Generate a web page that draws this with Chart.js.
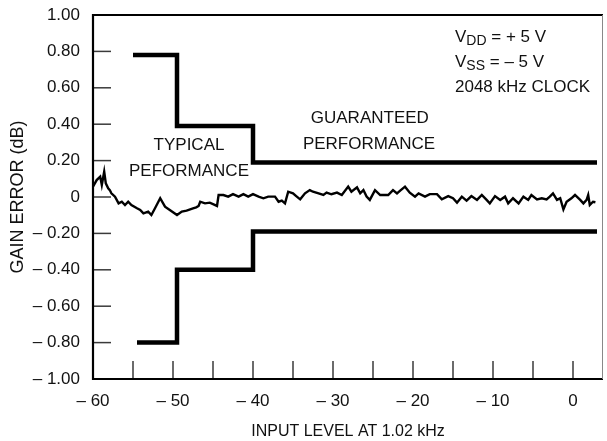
<!DOCTYPE html>
<html><head><meta charset="utf-8">
<script src="https://cdn.jsdelivr.net/npm/chart.js@4/dist/chart.umd.min.js"></script>
<style>html,body{margin:0;padding:0;background:#fff;}#wrap{width:607px;height:441px;position:relative;}</style>
</head><body><div id="wrap"><canvas id="c" width="607" height="441"></canvas></div>
<script>
// measured gain error trace (x: input level dB, y: gain error dB)
const errX = [-60,-59.54,-59.1,-58.9,-58.6,-58.4,-58.1,-57.9,-57.7,-57.25,-56.8,-56.4,-56.0,-55.6,-55.2,-54.5,-54.1,-53.7,-53.1,-52.7,-52.25,-51.6,-51.0,-50.4,-49.5,-48.9,-48.3,-47.5,-47.1,-46.8,-46.6,-46.0,-45.4,-44.5,-44.3,-43.7,-43.1,-42.5,-41.8,-41.2,-40.6,-40.0,-39.3,-38.7,-38.1,-37.25,-36.8,-36.4,-36.0,-35.6,-35.0,-34.6,-34.1,-33.5,-32.9,-32.5,-31.8,-31.2,-30.8,-30.2,-29.5,-28.9,-28.1,-27.7,-27.0,-26.6,-26.2,-25.8,-25.4,-24.75,-24.1,-23.1,-22.5,-22.0,-21.6,-21.0,-20.4,-19.75,-19.3,-18.5,-17.9,-17.0,-16.4,-15.6,-15.0,-14.5,-13.9,-13.3,-12.7,-12.0,-11.4,-10.8,-10.4,-9.75,-9.1,-8.5,-8.1,-7.5,-6.8,-6.2,-5.6,-5.2,-4.5,-3.9,-3.3,-2.9,-2.5,-2.0,-1.6,-1.2,-0.8,-0.2,0.25,0.9,1.3,1.7,1.9,2.1,2.5,2.8];
const errY = [0.057,0.093,0.112,0.066,0.139,0.075,0.048,0.038,0.020,0.002,-0.035,-0.026,-0.044,-0.026,-0.044,-0.062,-0.071,-0.090,-0.080,-0.099,-0.062,-0.007,-0.053,-0.071,-0.099,-0.080,-0.075,-0.062,-0.057,-0.049,-0.026,-0.035,-0.031,-0.049,0.011,0.011,0.002,0.016,0.002,0.016,0.002,0.016,0.002,-0.007,0.002,0.002,-0.026,-0.020,-0.035,0.029,0.020,0.005,-0.013,0.020,0.038,0.029,0.020,0.011,0.024,0.015,0.024,0.011,0.057,0.029,0.053,0.020,0.038,0.002,-0.016,0.038,0.011,0.011,0.038,0.020,0.035,0.057,0.024,0.002,0.020,0.002,0.016,0.016,-0.013,0.005,-0.007,-0.031,0.002,-0.020,0.005,-0.016,0.011,-0.016,-0.035,0.005,-0.016,0.002,-0.035,-0.007,-0.035,0.002,-0.016,0.011,-0.013,-0.007,-0.013,0.002,0.020,-0.016,-0.007,-0.068,-0.026,-0.007,0.011,-0.016,-0.035,-0.016,0.011,-0.044,-0.026,-0.029];
// guaranteed performance limits (stepped)
const upperX = [-55, -49.5, -40, 3];
const upperY = [0.78, 0.39, 0.19, 0.19];
const lowerX = [-54.5, -49.5, -40, 3];
const lowerY = [-0.80, -0.40, -0.19, -0.19];
// axes
const xTicks = [-60,-55,-50,-45,-40,-35,-30,-25,-20,-15,-10,-5,0];
const xLabelValues = [-60,-50,-40,-30,-20,-10,0];
const xLabelTexts = ['\u2013 60','\u2013 50','\u2013 40','\u2013 30','\u2013 20','\u2013 10','0'];
const yTicks = [-1,-0.8,-0.6,-0.4,-0.2,0,0.2,0.4,0.6,0.8,1];
const yTickLabels = ['\u2013 1.00','\u2013 0.80','\u2013 0.60','\u2013 0.40','\u2013 0.20','0','0.20','0.40','0.60','0.80','1.00'];

const FONT = "'Liberation Sans', Arial, Helvetica, sans-serif";
const pts = (xs, ys) => xs.map((x, i) => ({x, y: ys[i]}));

const framePlugin = {
  id: 'frame',
  afterDatasetsDraw(chart) {
    const {ctx, chartArea: a, scales: {x, y}} = chart;
    ctx.save();
    // inward ticks
    ctx.strokeStyle = '#3a3a3a'; ctx.lineWidth = 1.5;
    xTicks.forEach(v => {
      const px = x.getPixelForValue(v);
      if (Math.abs(px - a.left) < 2) return;
      ctx.beginPath(); ctx.moveTo(px, a.bottom); ctx.lineTo(px, a.bottom - 18); ctx.stroke();
    });
    yTicks.forEach(v => {
      const py = y.getPixelForValue(v);
      if (Math.abs(py - a.top) < 2 || Math.abs(py - a.bottom) < 2) return;
      ctx.beginPath(); ctx.moveTo(a.left, py); ctx.lineTo(a.left + 18, py); ctx.stroke();
    });
    // frame
    ctx.strokeStyle = '#000'; ctx.lineWidth = 2.2;
    ctx.beginPath();
    ctx.moveTo(a.right, a.top); ctx.lineTo(a.left, a.top); ctx.lineTo(a.left, a.bottom); ctx.lineTo(a.right, a.bottom);
    ctx.stroke();
    ctx.strokeStyle = '#888'; ctx.lineWidth = 1;
    ctx.beginPath(); ctx.moveTo(a.right - 0.5, a.top); ctx.lineTo(a.right - 0.5, a.bottom); ctx.stroke();

    // annotations
    ctx.fillStyle = '#111';
    ctx.font = '17px ' + FONT;
    ctx.textAlign = 'center'; ctx.textBaseline = 'middle';
    const put = (t, dx, dy) => ctx.fillText(t, x.getPixelForValue(dx), y.getPixelForValue(dy));
    put('TYPICAL', -48, 0.285);
    put('PEFORMANCE', -48, 0.143);
    put('GUARANTEED', -25.4, 0.434);
    put('PERFORMANCE', -25.5, 0.29);
    // supply notes with subscripts
    ctx.textAlign = 'left';
    const sub = (main, s, rest, dx, dy) => {
      let px = x.getPixelForValue(dx); const py = y.getPixelForValue(dy);
      ctx.font = '17px ' + FONT; ctx.fillText(main, px, py); px += ctx.measureText(main).width;
      ctx.font = '14px ' + FONT; ctx.fillText(s, px, py + 4); px += ctx.measureText(s).width;
      ctx.font = '17px ' + FONT; ctx.fillText(rest, px, py);
    };
    sub('V', 'DD', ' = + 5 V', -14.75, 0.88);
    sub('V', 'SS', ' = \u2013 5 V', -14.75, 0.74);
    ctx.font = '17px ' + FONT;
    ctx.fillText('2048 kHz CLOCK', x.getPixelForValue(-14.75), y.getPixelForValue(0.604));
    ctx.restore();
  }
};

new Chart(document.getElementById('c'), {
  type: 'line',
  data: {
    datasets: [
      {data: pts(errX, errY), borderColor: '#000', borderWidth: 2.4, pointRadius: 0, tension: 0, fill: false},
      {data: pts(upperX, upperY), borderColor: '#000', borderWidth: 4.5, pointRadius: 0, stepped: true, fill: false, borderCapStyle: 'butt'},
      {data: pts(lowerX, lowerY), borderColor: '#000', borderWidth: 4.5, pointRadius: 0, stepped: true, fill: false, borderCapStyle: 'butt'}
    ]
  },
  options: {
    responsive: false, animation: false, devicePixelRatio: 1,
    layout: {padding: {top: 15, right: 4, left: 0, bottom: 0}},
    plugins: {legend: {display: false}, tooltip: {enabled: false}},
    scales: {
      x: {
        type: 'linear', min: -60, max: 3.75,
        afterBuildTicks: s => { s.ticks = xLabelValues.map(v => ({value: v})); },
        afterFit: s => { s.height = 62; s.paddingLeft = 0; s.paddingRight = 0; },
        grid: {display: false, drawTicks: false}, border: {display: false},
        ticks: {autoSkip: false, maxRotation: 0, padding: 12, color: '#111', font: {family: FONT, size: 17},
          callback: (v) => { const i = xLabelValues.indexOf(v); return i >= 0 ? xLabelTexts[i] : ''; }},
        title: {display: true, text: 'INPUT LEVEL AT 1.02 kHz', color: '#111', font: {family: FONT, size: 16}, padding: {top: 0, bottom: 0}}
      },
      y: {
        type: 'linear', min: -1, max: 1,
        afterBuildTicks: s => { s.ticks = yTicks.map(v => ({value: v})); },
        afterFit: s => { s.width = 93; s.paddingTop = 0; s.paddingBottom = 0; },
        grid: {display: false, drawTicks: false}, border: {display: false},
        ticks: {autoSkip: false, padding: 13, color: '#111', font: {family: FONT, size: 17},
          callback: (v) => { const i = yTicks.findIndex(t => Math.abs(t - v) < 1e-9); return i >= 0 ? yTickLabels[i] : ''; }},
        title: {display: true, text: 'GAIN ERROR (dB)', color: '#111', font: {family: FONT, size: 18}, padding: {top: 7, bottom: 0}}
      }
    }
  },
  plugins: [framePlugin]
});
</script></body></html>
